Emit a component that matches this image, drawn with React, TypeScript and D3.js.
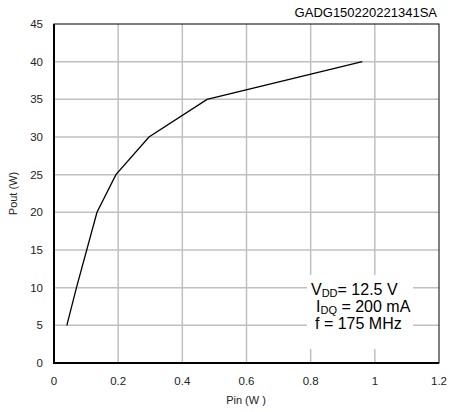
import React from "react";
import * as d3 from "d3";

const pinValues = [0.04, 0.07, 0.134, 0.193, 0.296, 0.477, 0.961];
const poutValues = [5, 10, 20, 25, 30, 35, 40];
const xTicks = [0, 0.2, 0.4, 0.6, 0.8, 1, 1.2];
const yTicks = [0, 5, 10, 15, 20, 25, 30, 35, 40, 45];
const title = "GADG150220221341SA";
const xLabel = "Pin (W )";
const yLabel = "Pout (W)";

export default function App() {
  const W = 450, H = 412;
  const L = 54, R = 439, T = 24, B = 363;
  const x = d3.scaleLinear().domain([0, 1.2]).range([L, R]);
  const y = d3.scaleLinear().domain([0, 45]).range([B, T]);
  const line = d3.line<number>().x((_, i) => x(pinValues[i])).y((d) => y(d));
  const font = "Arial, 'Liberation Sans', sans-serif";
  return (
    <svg width={W} height={H} style={{ position: "absolute", left: 0, top: 0, background: "#fff" }} fontFamily={font}>
      <rect x={0} y={0} width={W} height={H} fill="#fff" />
      {xTicks.slice(1, -1).map((t) => (
        <line key={"gx" + t} x1={x(t)} x2={x(t)} y1={T} y2={B} stroke="#c0c0c0" strokeWidth={1.5} />
      ))}
      {yTicks.slice(1, -1).map((t) => (
        <line key={"gy" + t} x1={L} x2={R} y1={y(t)} y2={y(t)} stroke="#c0c0c0" strokeWidth={1.5} />
      ))}
      <rect x={L} y={T} width={R - L} height={B - T} fill="none" stroke="#000" strokeWidth={1} />
      <line x1={L} x2={L} y1={T} y2={B + 1} stroke="#000" strokeWidth={2} />
      <line x1={L - 1} x2={R} y1={B} y2={B} stroke="#000" strokeWidth={2} />
      <rect x={307} y={275} width={106} height={74} fill="#fff" />
      <path d={line(poutValues) || ""} fill="none" stroke="#000" strokeWidth={1.3} />
      {xTicks.map((t) => (
        <text key={"tx" + t} x={x(t)} y={385} textAnchor="middle" fontSize={11.5} fill="#222">
          {String(t)}
        </text>
      ))}
      {yTicks.map((t) => (
        <text key={"ty" + t} x={43} y={y(t) + 4} textAnchor="end" fontSize={11.5} fill="#222">
          {String(t)}
        </text>
      ))}
      <text x={246} y={404} textAnchor="middle" fontSize={11} fill="#222">{xLabel}</text>
      <text transform={`translate(17,${(T + B) / 2}) rotate(-90)`} textAnchor="middle" fontSize={11} fill="#222">{yLabel}</text>
      <text x={437} y={17} textAnchor="end" fontSize={13} fill="#000">{title}</text>
      <text x={311} y={295} fontSize={16} fill="#000">
        V<tspan fontSize={11} dy={2}>DD</tspan><tspan dy={-2}>= 12.5 V</tspan>
      </text>
      <text x={316} y={312} fontSize={16} fill="#000">
        I<tspan fontSize={11} dy={2}>DQ</tspan><tspan dy={-2}> = 200 mA</tspan>
      </text>
      <text x={315} y={329} fontSize={16} fill="#000">f = 175 MHz</text>
    </svg>
  );
}
